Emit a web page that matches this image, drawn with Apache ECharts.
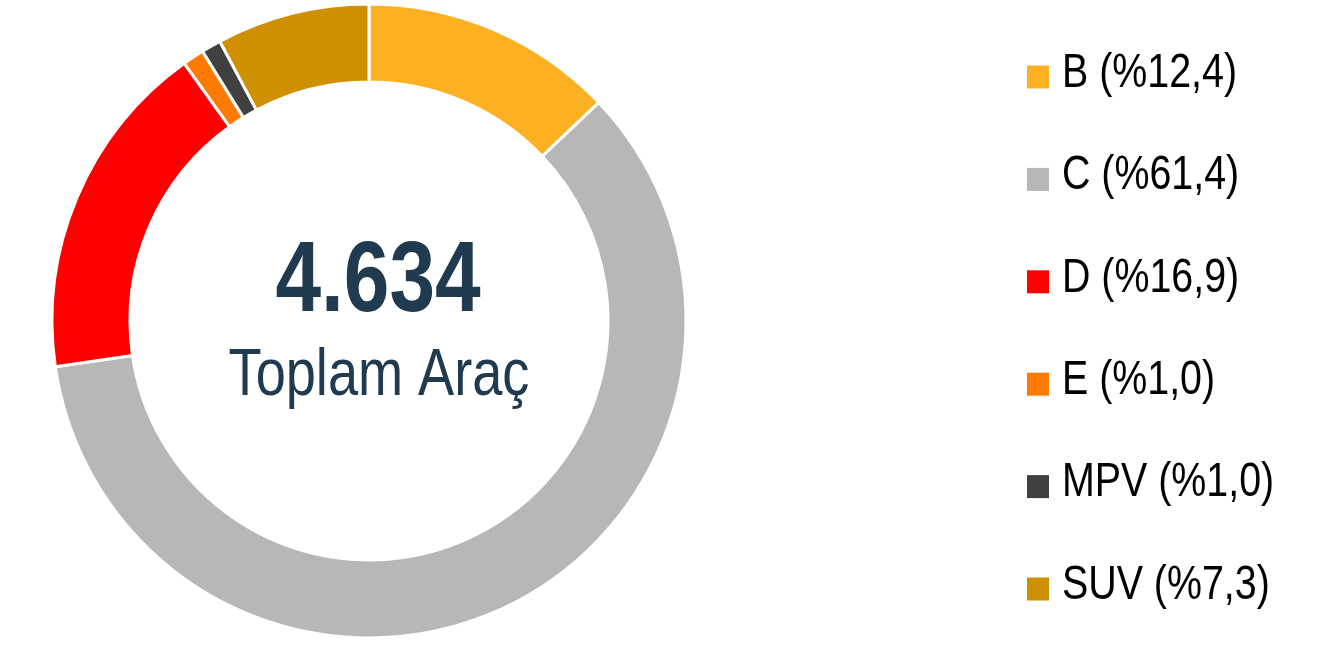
<!DOCTYPE html>
<html><head><meta charset="utf-8">
<script src="https://cdn.jsdelivr.net/npm/echarts@6/dist/echarts.min.js"></script>
<style>html,body{margin:0;padding:0;background:#fff}#c{width:1323px;height:647px}</style>
</head><body><div id="c"></div>
<script>
const categories = ['B', 'C', 'D', 'E', 'MPV', 'SUV'];
const shares = ['12,4', '61,4', '16,9', '1,0', '1,0', '7,3'];
// slice sizes as they appear in the drawn ring
const sliceValues = [12.9, 59.8, 17.4, 1.1, 1.0, 7.8];
const colors = ['#FDB022', '#B7B7B7', '#FF0000', '#FF7A00', '#404040', '#CE9000'];
const totalText = '4.634';
const subText = 'Toplam Araç';

const FONT = "'Liberation Sans', Arial, sans-serif";
const NARROW = 0.82; // emulate a condensed (Arial Narrow-like) face
const chart = echarts.init(document.getElementById('c'));

const legendTop = 73.5, legendStep = 102.4;
const legendGraphics = categories.map((c, i) => ({
  type: 'group',
  x: 1027, y: legendTop + i * legendStep,
  children: [
    { type: 'rect', shape: { x: 0, y: -8, width: 22, height: 23 }, style: { fill: colors[i] } },
    { type: 'text', x: 35, y: 0, scaleX: NARROW,
      style: { text: c + ' (%' + shares[i] + ')', fontFamily: FONT, fontSize: 48, fill: '#000', align: 'left', verticalAlign: 'middle' } }
  ]
}));

chart.setOption({
  animation: false,
  legend: { show: false, data: categories },
  series: [{
    type: 'pie',
    center: [369, 321],
    radius: [239, 317],
    startAngle: 90,
    clockwise: true,
    label: { show: false },
    labelLine: { show: false },
    itemStyle: { borderColor: '#fff', borderWidth: 3 },
    emphasis: { disabled: true },
    data: categories.map((c, i) => ({ name: c, value: sliceValues[i], itemStyle: { color: colors[i] } }))
  }],
  graphic: [
    { type: 'text', x: 378, y: 283, scaleX: NARROW,
      style: { text: totalText, fontFamily: FONT, fontWeight: 'bold', fontSize: 100, fill: '#203A4F', align: 'center', verticalAlign: 'middle' } },
    { type: 'text', x: 379, y: 377, scaleX: NARROW,
      style: { text: subText, fontFamily: FONT, fontSize: 66, fill: '#203A4F', align: 'center', verticalAlign: 'middle' } }
  ].concat(legendGraphics)
});
</script></body></html>
